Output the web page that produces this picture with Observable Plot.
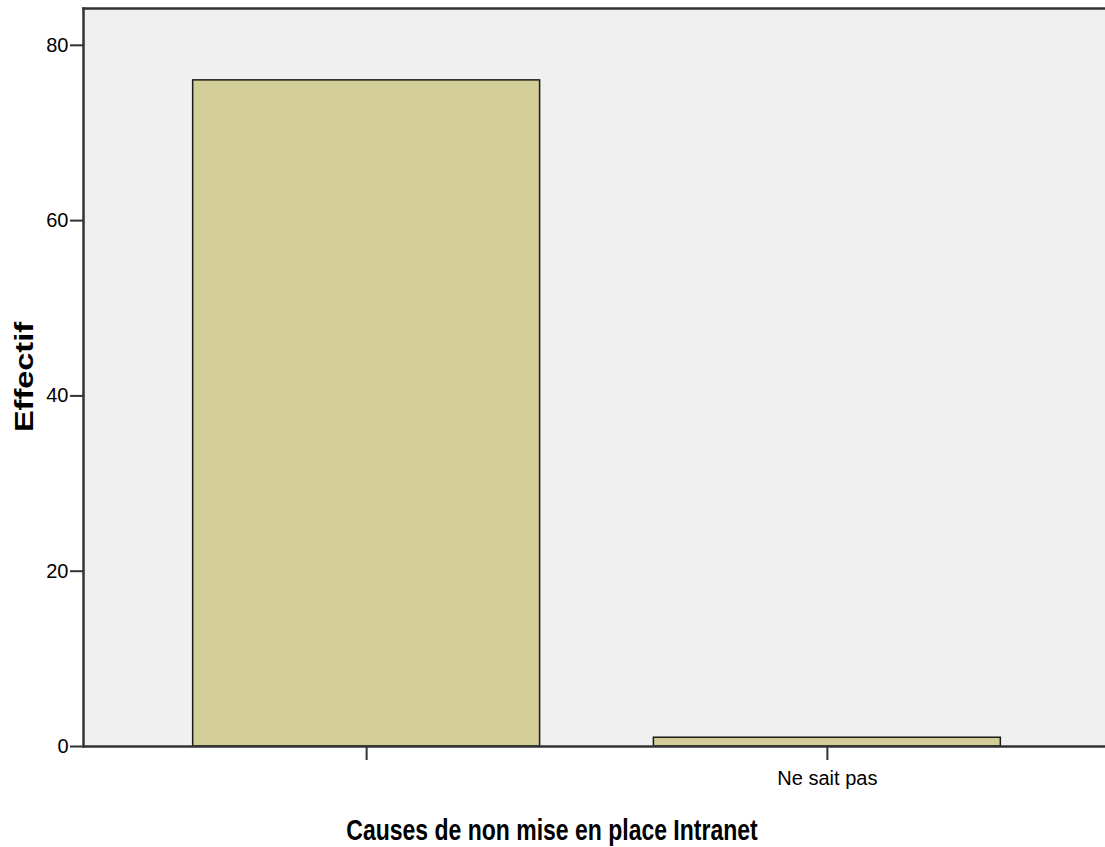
<!DOCTYPE html>
<html>
<head>
<meta charset="utf-8">
<script src="https://cdn.jsdelivr.net/npm/d3@7"></script>
<script src="https://cdn.jsdelivr.net/npm/@observablehq/plot@0.6"></script>
<style>
  html, body { margin: 0; padding: 0; background: #fff; overflow: hidden; }
  #chart svg { display: block; max-width: none !important; }
</style>
</head>
<body>
<div id="chart"></div>
<script>
const categories = ["", "Ne sait pas"];
const counts = [76, 1];
const yTicks = [0, 20, 40, 60, 80];
const xTitle = "Causes de non mise en place Intranet";
const yTitle = "Effectif";

const data = categories.map((c, i) => ({cat: c, n: counts[i]}));

const chart = Plot.plot({
  width: 1110,
  height: 847,
  marginTop: 8,
  marginLeft: 83,
  marginRight: 0,
  marginBottom: 101,
  style: {fontFamily: "'Liberation Sans', Arial, sans-serif", background: "#fff", maxWidth: "none"},
  x: {type: "band", domain: categories, range: [83, 1110], paddingInner: 0.247, paddingOuter: 0.238, round: false},
  y: {domain: [0, 84.2]},
  marks: [
    Plot.frame({fill: "#f0f0f0", stroke: "none"}),
    Plot.barY(data, {x: "cat", y: "n", fill: "#d3ce97", stroke: "#1a1a1a", strokeWidth: 1.5}),
    Plot.frame({anchor: "left", stroke: "#333", strokeWidth: 2.5}),
    Plot.frame({anchor: "top", stroke: "#333", strokeWidth: 2.5}),
    Plot.ruleY([0], {stroke: "#333", strokeWidth: 2.5}),
    Plot.axisY({ticks: yTicks, tickSize: 13, tickPadding: 2, fontSize: 20, label: null, stroke: "#333", strokeWidth: 2, color: "#000"}),
    Plot.axisX({tickSize: 14, tickPadding: 10, fontSize: 20, label: null, stroke: "#333", strokeWidth: 2, color: "#000"}),
    Plot.text([yTitle], {frameAnchor: "left", dx: -60, fontSize: 26, fontWeight: "bold", fill: "#000", textAnchor: "middle", className: "ylab"}),
    Plot.text([xTitle], {frameAnchor: "bottom", dx: -45, dy: 91, fontSize: 23, fontWeight: "bold", fill: "#000", className: "xlab"})
  ]
});

document.getElementById("chart").appendChild(chart);

function stretchAboutCenter(sel, op) {
  chart.querySelectorAll(sel).forEach(t => {
    const bb = t.getBBox();
    const cx = bb.x + bb.width / 2, cy = bb.y + bb.height / 2;
    const tr = t.getAttribute("transform") || "";
    t.setAttribute("transform", `${tr} translate(${cx},${cy}) ${op} translate(${-cx},${-cy})`);
  });
}
stretchAboutCenter(".xlab text", "scale(1,1.3)");
stretchAboutCenter(".ylab text", "rotate(-90) scale(1.25,1)");
</script>
</body>
</html>
